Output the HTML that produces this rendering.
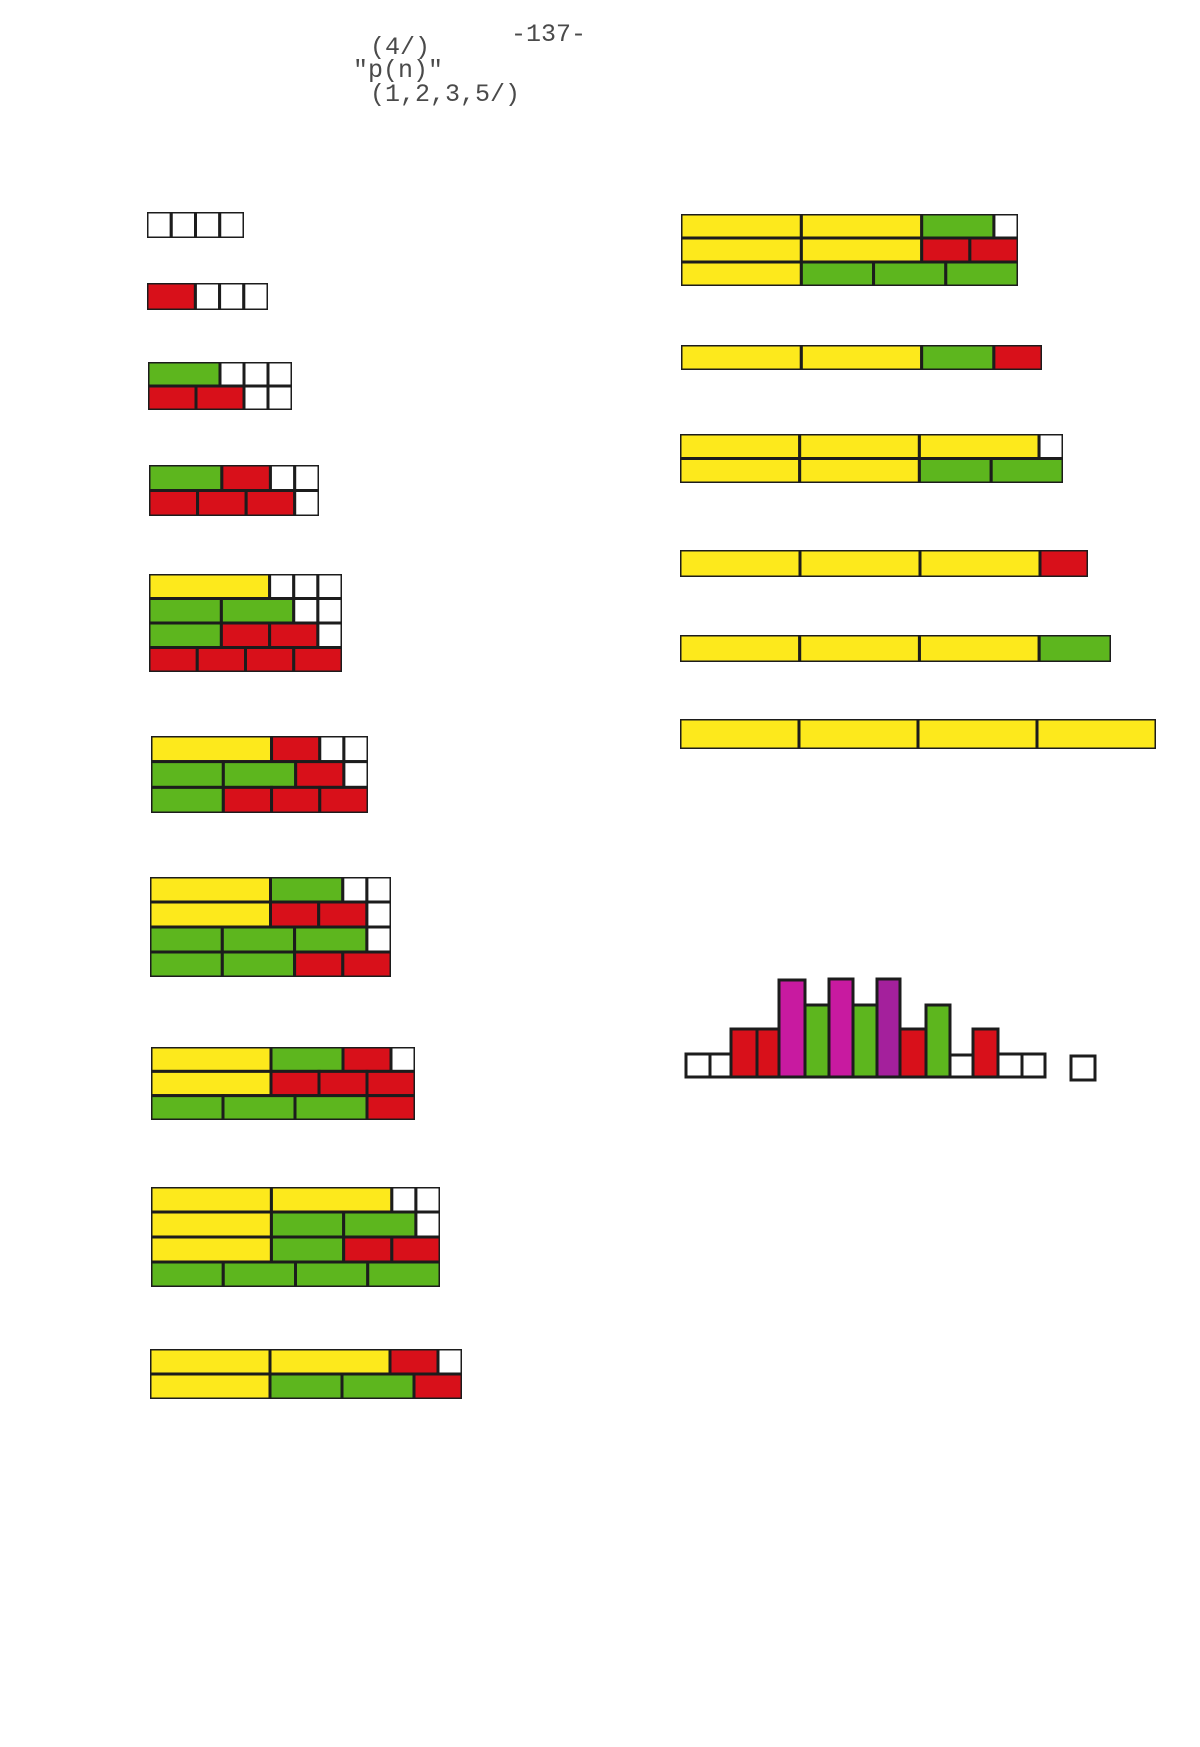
<!DOCTYPE html>
<html><head><meta charset="utf-8"><style>
html,body{margin:0;padding:0;background:#fff;}
svg{display:block}
rect{stroke:#1c1c1c;stroke-width:3;vector-effect:non-scaling-stroke;stroke-linejoin:miter}
.y{fill:#fde91c}.g{fill:#5db61e}.r{fill:#d8101a}.w{fill:#fff}.m{fill:#c81aa0}.p{fill:#a4209c}
text{font-family:"Liberation Mono",monospace;font-size:25px;fill:#4a4a4a}
</style></head><body>
<svg width="1200" height="1747" xmlns="http://www.w3.org/2000/svg">
<text x="511" y="41">-137-</text>
<text x="370" y="54">(4/)</text>
<text x="353" y="77">"p(n)"</text>
<text x="370" y="101">(1,2,3,5/)</text>

<!-- C1 -->
<svg x="147" y="212" width="97" height="26" viewBox="0 0 4 1" preserveAspectRatio="none">
<rect class="w" x="0" y="0" width="1" height="1"/><rect class="w" x="1" y="0" width="1" height="1"/><rect class="w" x="2" y="0" width="1" height="1"/><rect class="w" x="3" y="0" width="1" height="1"/></svg>
<!-- C2 -->
<svg x="147" y="283" width="121" height="27" viewBox="0 0 5 1" preserveAspectRatio="none">
<rect class="r" x="0" y="0" width="2" height="1"/><rect class="w" x="2" y="0" width="1" height="1"/><rect class="w" x="3" y="0" width="1" height="1"/><rect class="w" x="4" y="0" width="1" height="1"/></svg>
<!-- C3 -->
<svg x="148" y="362" width="144" height="48" viewBox="0 0 6 2" preserveAspectRatio="none">
<rect class="g" x="0" y="0" width="3" height="1"/><rect class="w" x="3" y="0" width="1" height="1"/><rect class="w" x="4" y="0" width="1" height="1"/><rect class="w" x="5" y="0" width="1" height="1"/>
<rect class="r" x="0" y="1" width="2" height="1"/><rect class="r" x="2" y="1" width="2" height="1"/><rect class="w" x="4" y="1" width="1" height="1"/><rect class="w" x="5" y="1" width="1" height="1"/></svg>
<!-- C4 -->
<svg x="149" y="465" width="170" height="51" viewBox="0 0 7 2" preserveAspectRatio="none">
<rect class="g" x="0" y="0" width="3" height="1"/><rect class="r" x="3" y="0" width="2" height="1"/><rect class="w" x="5" y="0" width="1" height="1"/><rect class="w" x="6" y="0" width="1" height="1"/>
<rect class="r" x="0" y="1" width="2" height="1"/><rect class="r" x="2" y="1" width="2" height="1"/><rect class="r" x="4" y="1" width="2" height="1"/><rect class="w" x="6" y="1" width="1" height="1"/></svg>
<!-- C5 -->
<svg x="149" y="574" width="193" height="98" viewBox="0 0 8 4" preserveAspectRatio="none">
<rect class="y" x="0" y="0" width="5" height="1"/><rect class="w" x="5" y="0" width="1" height="1"/><rect class="w" x="6" y="0" width="1" height="1"/><rect class="w" x="7" y="0" width="1" height="1"/>
<rect class="g" x="0" y="1" width="3" height="1"/><rect class="g" x="3" y="1" width="3" height="1"/><rect class="w" x="6" y="1" width="1" height="1"/><rect class="w" x="7" y="1" width="1" height="1"/>
<rect class="g" x="0" y="2" width="3" height="1"/><rect class="r" x="3" y="2" width="2" height="1"/><rect class="r" x="5" y="2" width="2" height="1"/><rect class="w" x="7" y="2" width="1" height="1"/>
<rect class="r" x="0" y="3" width="2" height="1"/><rect class="r" x="2" y="3" width="2" height="1"/><rect class="r" x="4" y="3" width="2" height="1"/><rect class="r" x="6" y="3" width="2" height="1"/></svg>
<!-- C6 -->
<svg x="151" y="736" width="217" height="77" viewBox="0 0 9 3" preserveAspectRatio="none">
<rect class="y" x="0" y="0" width="5" height="1"/><rect class="r" x="5" y="0" width="2" height="1"/><rect class="w" x="7" y="0" width="1" height="1"/><rect class="w" x="8" y="0" width="1" height="1"/>
<rect class="g" x="0" y="1" width="3" height="1"/><rect class="g" x="3" y="1" width="3" height="1"/><rect class="r" x="6" y="1" width="2" height="1"/><rect class="w" x="8" y="1" width="1" height="1"/>
<rect class="g" x="0" y="2" width="3" height="1"/><rect class="r" x="3" y="2" width="2" height="1"/><rect class="r" x="5" y="2" width="2" height="1"/><rect class="r" x="7" y="2" width="2" height="1"/></svg>
<!-- C7 -->
<svg x="150" y="877" width="241" height="100" viewBox="0 0 10 4" preserveAspectRatio="none">
<rect class="y" x="0" y="0" width="5" height="1"/><rect class="g" x="5" y="0" width="3" height="1"/><rect class="w" x="8" y="0" width="1" height="1"/><rect class="w" x="9" y="0" width="1" height="1"/>
<rect class="y" x="0" y="1" width="5" height="1"/><rect class="r" x="5" y="1" width="2" height="1"/><rect class="r" x="7" y="1" width="2" height="1"/><rect class="w" x="9" y="1" width="1" height="1"/>
<rect class="g" x="0" y="2" width="3" height="1"/><rect class="g" x="3" y="2" width="3" height="1"/><rect class="g" x="6" y="2" width="3" height="1"/><rect class="w" x="9" y="2" width="1" height="1"/>
<rect class="g" x="0" y="3" width="3" height="1"/><rect class="g" x="3" y="3" width="3" height="1"/><rect class="r" x="6" y="3" width="2" height="1"/><rect class="r" x="8" y="3" width="2" height="1"/></svg>
<!-- C8 -->
<svg x="151" y="1047" width="264" height="73" viewBox="0 0 11 3" preserveAspectRatio="none">
<rect class="y" x="0" y="0" width="5" height="1"/><rect class="g" x="5" y="0" width="3" height="1"/><rect class="r" x="8" y="0" width="2" height="1"/><rect class="w" x="10" y="0" width="1" height="1"/>
<rect class="y" x="0" y="1" width="5" height="1"/><rect class="r" x="5" y="1" width="2" height="1"/><rect class="r" x="7" y="1" width="2" height="1"/><rect class="r" x="9" y="1" width="2" height="1"/>
<rect class="g" x="0" y="2" width="3" height="1"/><rect class="g" x="3" y="2" width="3" height="1"/><rect class="g" x="6" y="2" width="3" height="1"/><rect class="r" x="9" y="2" width="2" height="1"/></svg>
<!-- C9 -->
<svg x="151" y="1187" width="289" height="100" viewBox="0 0 12 4" preserveAspectRatio="none">
<rect class="y" x="0" y="0" width="5" height="1"/><rect class="y" x="5" y="0" width="5" height="1"/><rect class="w" x="10" y="0" width="1" height="1"/><rect class="w" x="11" y="0" width="1" height="1"/>
<rect class="y" x="0" y="1" width="5" height="1"/><rect class="g" x="5" y="1" width="3" height="1"/><rect class="g" x="8" y="1" width="3" height="1"/><rect class="w" x="11" y="1" width="1" height="1"/>
<rect class="y" x="0" y="2" width="5" height="1"/><rect class="g" x="5" y="2" width="3" height="1"/><rect class="r" x="8" y="2" width="2" height="1"/><rect class="r" x="10" y="2" width="2" height="1"/>
<rect class="g" x="0" y="3" width="3" height="1"/><rect class="g" x="3" y="3" width="3" height="1"/><rect class="g" x="6" y="3" width="3" height="1"/><rect class="g" x="9" y="3" width="3" height="1"/></svg>
<!-- C10 -->
<svg x="150" y="1349" width="312" height="50" viewBox="0 0 13 2" preserveAspectRatio="none">
<rect class="y" x="0" y="0" width="5" height="1"/><rect class="y" x="5" y="0" width="5" height="1"/><rect class="r" x="10" y="0" width="2" height="1"/><rect class="w" x="12" y="0" width="1" height="1"/>
<rect class="y" x="0" y="1" width="5" height="1"/><rect class="g" x="5" y="1" width="3" height="1"/><rect class="g" x="8" y="1" width="3" height="1"/><rect class="r" x="11" y="1" width="2" height="1"/></svg>

<!-- R1 -->
<svg x="681" y="214" width="337" height="72" viewBox="0 0 14 3" preserveAspectRatio="none">
<rect class="y" x="0" y="0" width="5" height="1"/><rect class="y" x="5" y="0" width="5" height="1"/><rect class="g" x="10" y="0" width="3" height="1"/><rect class="w" x="13" y="0" width="1" height="1"/>
<rect class="y" x="0" y="1" width="5" height="1"/><rect class="y" x="5" y="1" width="5" height="1"/><rect class="r" x="10" y="1" width="2" height="1"/><rect class="r" x="12" y="1" width="2" height="1"/>
<rect class="y" x="0" y="2" width="5" height="1"/><rect class="g" x="5" y="2" width="3" height="1"/><rect class="g" x="8" y="2" width="3" height="1"/><rect class="g" x="11" y="2" width="3" height="1"/></svg>
<!-- R2 -->
<svg x="681" y="345" width="361" height="25" viewBox="0 0 15 1" preserveAspectRatio="none">
<rect class="y" x="0" y="0" width="5" height="1"/><rect class="y" x="5" y="0" width="5" height="1"/><rect class="g" x="10" y="0" width="3" height="1"/><rect class="r" x="13" y="0" width="2" height="1"/></svg>
<!-- R3 -->
<svg x="680" y="434" width="383" height="49" viewBox="0 0 16 2" preserveAspectRatio="none">
<rect class="y" x="0" y="0" width="5" height="1"/><rect class="y" x="5" y="0" width="5" height="1"/><rect class="y" x="10" y="0" width="5" height="1"/><rect class="w" x="15" y="0" width="1" height="1"/>
<rect class="y" x="0" y="1" width="5" height="1"/><rect class="y" x="5" y="1" width="5" height="1"/><rect class="g" x="10" y="1" width="3" height="1"/><rect class="g" x="13" y="1" width="3" height="1"/></svg>
<!-- R4 -->
<svg x="680" y="550" width="408" height="27" viewBox="0 0 17 1" preserveAspectRatio="none">
<rect class="y" x="0" y="0" width="5" height="1"/><rect class="y" x="5" y="0" width="5" height="1"/><rect class="y" x="10" y="0" width="5" height="1"/><rect class="r" x="15" y="0" width="2" height="1"/></svg>
<!-- R5 -->
<svg x="680" y="635" width="431" height="27" viewBox="0 0 18 1" preserveAspectRatio="none">
<rect class="y" x="0" y="0" width="5" height="1"/><rect class="y" x="5" y="0" width="5" height="1"/><rect class="y" x="10" y="0" width="5" height="1"/><rect class="g" x="15" y="0" width="3" height="1"/></svg>
<!-- R6 -->
<svg x="680" y="719" width="476" height="30" viewBox="0 0 20 1" preserveAspectRatio="none">
<rect class="y" x="0" y="0" width="5" height="1"/><rect class="y" x="5" y="0" width="5" height="1"/><rect class="y" x="10" y="0" width="5" height="1"/><rect class="y" x="15" y="0" width="5" height="1"/></svg>

<!-- histogram -->
<rect class="w" x="686" y="1054" width="24" height="23"/>
<rect class="w" x="710" y="1054" width="21" height="23"/>
<rect class="r" x="731" y="1029" width="26" height="48"/>
<rect class="r" x="757" y="1029" width="22" height="48"/>
<rect class="m" x="779" y="980" width="26" height="97"/>
<rect class="g" x="805" y="1005" width="24" height="72"/>
<rect class="m" x="829" y="979" width="24" height="98"/>
<rect class="g" x="853" y="1005" width="24" height="72"/>
<rect class="p" x="877" y="979" width="23" height="98"/>
<rect class="r" x="900" y="1029" width="26" height="48"/>
<rect class="g" x="926" y="1005" width="24" height="72"/>
<rect class="w" x="950" y="1055" width="23" height="22"/>
<rect class="r" x="973" y="1029" width="25" height="48"/>
<rect class="w" x="998" y="1054" width="24" height="23"/>
<rect class="w" x="1022" y="1054" width="23" height="23"/>
<rect class="w" x="1071" y="1056" width="24" height="24"/>
</svg>
</body></html>
